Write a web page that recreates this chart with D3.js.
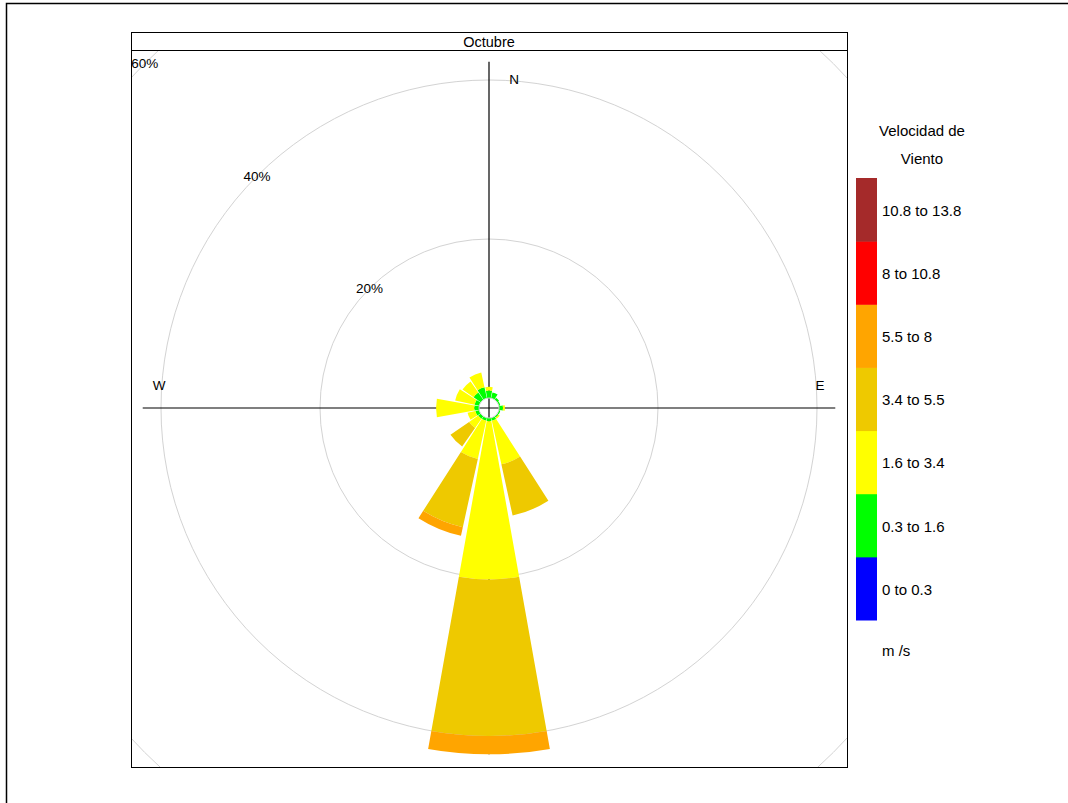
<!DOCTYPE html>
<html>
<head>
<meta charset="utf-8">
<script src="https://cdn.jsdelivr.net/npm/d3@7"></script>
<style>
  html, body { margin: 0; padding: 0; background: #fff; }
  svg { display: block; font-family: "Liberation Sans", Arial, sans-serif; }
</style>
</head>
<body>
<svg id="chart" width="1068" height="803"></svg>
<script>
// ---- data ----
const panelTitle = "Octubre";
const directions = ["N","NNE","NE","ENE","E","ESE","SE","SSE","S","SSW","SW","WSW","W","WNW","NW","NNW"];
const speedBins = ["0 to 0.3","0.3 to 1.6","1.6 to 3.4","3.4 to 5.5","5.5 to 8","8 to 10.8","10.8 to 13.8"];
const binColors = ["#0000FF","#00FF00","#FFFF00","#EEC900","#FFA500","#FF0000","#A52A2A"];
// percentage of time per direction, for each speed bin
const bin0_03   = [0,   0,   0,   0,   0,   0,   0,   0,   0,    0,   0,    0,   0,   0,   0,   0  ];
const bin03_16  = [0.95,0.75,0.3, 0.2, 0.5, 0.2, 0.2, 0.4, 0.4,  0.4, 0.4,  0.5, 0.6, 0.6, 1.1, 1.4];
const bin16_34  = [0.45,0,   0,   0,   0.25,0,   0.2, 5.6, 19.9, 4.9, 1.4,  1.0, 4.8, 2.5, 1.7, 1.9];
const bin34_55  = [0,   0,   0,   0,   0,   0,   0,   6.6, 19.7, 8.8, 2.85, 0,   0,   0,   0,   0  ];
const bin55_8   = [0,   0,   0,   0,   0,   0,   0,   0,   2.3,  1.1, 0,    0,   0,   0,   0,   0  ];
const bin8_108  = [0,   0,   0,   0,   0,   0,   0,   0,   0,    0,   0,    0,   0,   0,   0,   0  ];
const bin108_138= [0,   0,   0,   0,   0,   0,   0,   0,   0,    0,   0,    0,   0,   0,   0,   0  ];
const gridPcts = [20, 40, 60];
const gridLabels = ["20%", "40%", "60%"];
const compassLabels = ["N", "E", "W"];
const legendTitle = ["Velocidad de", "Viento"];
const legendUnits = "m /s";

const bins = [bin0_03, bin03_16, bin16_34, bin34_55, bin55_8, bin8_108, bin108_138];

// ---- layout ----
const svg = d3.select("#chart");
const panel = {x0: 131, x1: 847, y0: 50, y1: 767, stripTop: 32};
const cx = (panel.x0 + panel.x1) / 2, cy = (panel.y0 + panel.y1) / 2 - 0.5;
const r = d3.scaleLinear().domain([0, 60]).range([10, 487]);
const angleStep = 22.5;
const halfWidth = 0.9 * angleStep / 2;
const toRad = d => d * Math.PI / 180;

// outer border
svg.append("rect").attr("x", 6.5).attr("y", 3.5).attr("width", 1080).attr("height", 820)
  .attr("fill", "none").attr("stroke", "#000").attr("stroke-width", 1.5);

// clip path for panel
svg.append("defs").append("clipPath").attr("id", "pclip")
  .append("rect").attr("x", panel.x0).attr("y", panel.y0)
  .attr("width", panel.x1 - panel.x0).attr("height", panel.y1 - panel.y0);

const g = svg.append("g").attr("clip-path", "url(#pclip)");
const c = g.append("g").attr("transform", `translate(${cx},${cy})`);

// grid circles
c.selectAll("circle.grid").data(gridPcts).join("circle")
  .attr("class", "grid").attr("r", d => r(d))
  .attr("fill", "none").attr("stroke", "#d3d3d3").attr("stroke-width", 1);

// stacked data
const stacked = directions.map((dname, i) => {
  let cum = 0;
  const segs = [];
  bins.forEach((b, k) => {
    const v = b[i];
    if (v > 0) segs.push({dir: i, k, from: cum, to: cum + v});
    cum += v;
  });
  return {dir: i, total: cum, segs};
});
const maxTotal = d3.max(stacked, d => d.total);
const axisR = r(maxTotal);

// axis lines
c.append("line").attr("x1", 0).attr("x2", 0).attr("y1", -axisR).attr("y2", axisR)
  .attr("stroke", "#000").attr("stroke-width", 1.2);
c.append("line").attr("x1", -axisR).attr("x2", axisR).attr("y1", 0).attr("y2", 0)
  .attr("stroke", "#000").attr("stroke-width", 1.2);

// petals
const arc = d3.arc();
const allSegs = stacked.flatMap(d => d.segs);
c.selectAll("path.petal").data(allSegs).join("path")
  .attr("class", "petal")
  .attr("d", s => arc({
    innerRadius: r(s.from), outerRadius: r(s.to),
    startAngle: toRad(s.dir * angleStep - halfWidth),
    endAngle: toRad(s.dir * angleStep + halfWidth)
  }))
  .attr("fill", s => binColors[s.k]).attr("stroke", "none");

// inner offset circle
c.append("circle").attr("r", r(0)).attr("fill", "none")
  .attr("stroke", "#d3d3d3").attr("stroke-width", 1);

// grid labels at NW diagonal
c.selectAll("text.glab").data(gridPcts).join("text")
  .attr("class", "glab")
  .attr("x", d => -r(d) * Math.SQRT1_2)
  .attr("y", d => -r(d) * Math.SQRT1_2)
  .attr("dy", "0.35em").attr("text-anchor", "middle")
  .attr("font-size", 13.5).attr("fill", "#000")
  .text((d, i) => gridLabels[i]);

// compass labels
const labR = 330;
const compassPos = {N: [25, -labR + 1], E: [labR + 1, -23], W: [-labR, -23]};
c.selectAll("text.comp").data(compassLabels).join("text")
  .attr("class", "comp")
  .attr("x", d => compassPos[d][0]).attr("y", d => compassPos[d][1])
  .attr("dy", "0.35em").attr("text-anchor", "middle")
  .attr("font-size", 13.5).attr("fill", "#000").text(d => d);

// panel frame and strip
svg.append("rect").attr("x", panel.x0 + 0.5).attr("y", panel.stripTop + 0.5)
  .attr("width", panel.x1 - panel.x0).attr("height", panel.y0 - panel.stripTop)
  .attr("fill", "none").attr("stroke", "#000").attr("stroke-width", 1);
svg.append("rect").attr("x", panel.x0 + 0.5).attr("y", panel.y0 + 0.5)
  .attr("width", panel.x1 - panel.x0).attr("height", panel.y1 - panel.y0)
  .attr("fill", "none").attr("stroke", "#000").attr("stroke-width", 1);
svg.append("text").attr("x", cx).attr("y", (panel.stripTop + panel.y0) / 2 + 1)
  .attr("dy", "0.35em").attr("text-anchor", "middle").attr("font-size", 14.5)
  .text(panelTitle);

// legend
const leg = svg.append("g");
leg.selectAll("text.lt").data(legendTitle).join("text")
  .attr("class", "lt").attr("x", 922).attr("y", (d, i) => 131 + i * 28)
  .attr("dy", "0.35em").attr("text-anchor", "middle").attr("font-size", 15).text(d => d);
const ly = d3.scaleBand().domain(d3.range(speedBins.length).reverse()).range([178, 620]);
leg.selectAll("rect.lk").data(d3.range(speedBins.length)).join("rect")
  .attr("class", "lk").attr("x", 856).attr("width", 21)
  .attr("y", d => ly(d)).attr("height", ly.bandwidth() + 0.5)
  .attr("fill", d => binColors[d]);
leg.selectAll("text.ll").data(d3.range(speedBins.length)).join("text")
  .attr("class", "ll").attr("x", 882).attr("y", d => ly(d) + ly.bandwidth() / 2 + 1)
  .attr("dy", "0.35em").attr("font-size", 15).text(d => speedBins[d]);
leg.append("text").attr("x", 882).attr("y", 651).attr("dy", "0.35em")
  .attr("font-size", 15).text(legendUnits);
</script>
</body>
</html>
